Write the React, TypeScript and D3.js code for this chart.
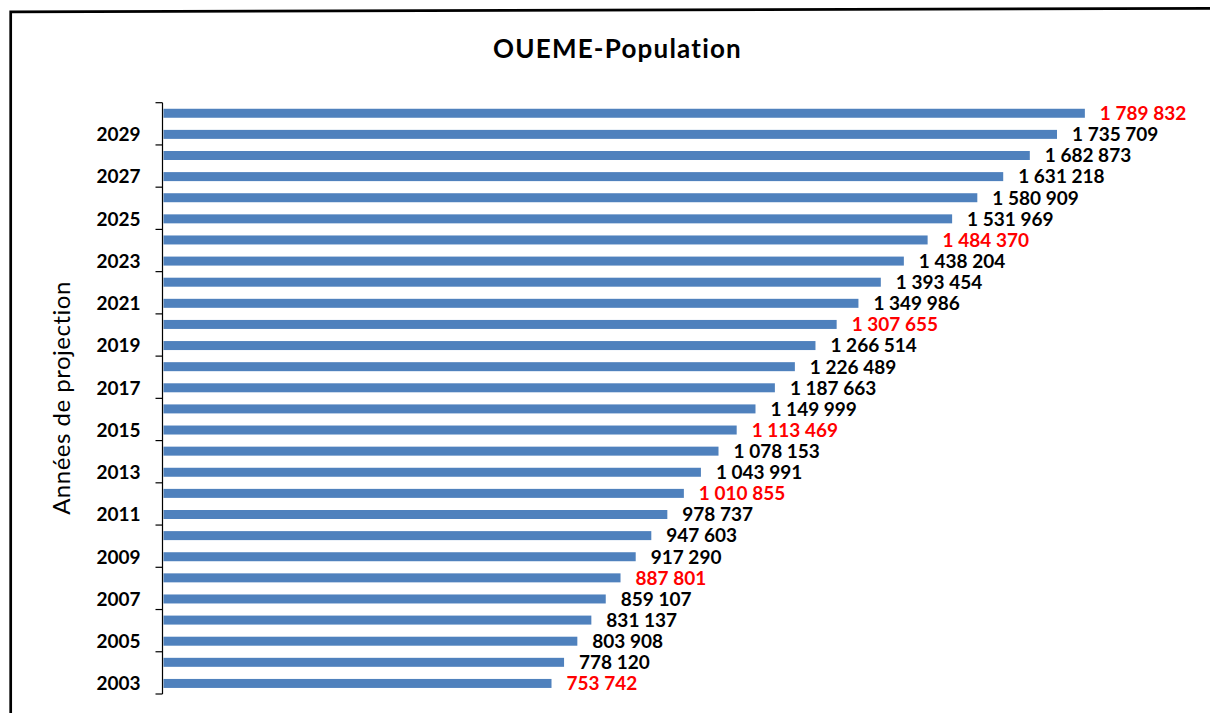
import React, { useEffect, useRef } from "react";
import * as d3 from "d3";

const years: number[] = [2003, 2004, 2005, 2006, 2007, 2008, 2009, 2010, 2011, 2012, 2013, 2014, 2015, 2016, 2017, 2018, 2019, 2020, 2021, 2022, 2023, 2024, 2025, 2026, 2027, 2028, 2029, 2030];
const population: number[] = [753742, 778120, 803908, 831137, 859107, 887801, 917290, 947603, 978737, 1010855, 1043991, 1078153, 1113469, 1149999, 1187663, 1226489, 1266514, 1307655, 1349986, 1393454, 1438204, 1484370, 1531969, 1580909, 1631218, 1682873, 1735709, 1789832];
const highlightYears: number[] = [2003, 2008, 2012, 2015, 2020, 2024, 2030];
const tickLabelYears: number[] = [2003, 2005, 2007, 2009, 2011, 2013, 2015, 2017, 2019, 2021, 2023, 2025, 2027, 2029];

const W = 1210;
const H = 713;

export default function App() {
  const ref = useRef<SVGSVGElement | null>(null);

  useEffect(() => {
    document.body.style.margin = "0";
    const svg = d3.select(ref.current);
    svg.selectAll("*").remove();

    svg.append("rect").attr("width", W).attr("height", H).attr("fill", "#fff");

    // frame
    svg.append("path")
      .attr("d", `M10.7,${H} L10.7,11.8 L${W},8.3`)
      .attr("fill", "none").attr("stroke", "#000").attr("stroke-width", 2.7);

    const x = d3.scaleLinear().domain([0, 1800000]).range([163.5, 1090.1]);
    const y = d3.scaleBand<number>().domain(years).range([694, 102.7]).paddingInner(0.574).paddingOuter(0.287);

    const fmtBase = d3.formatLocale({ decimal: ",", thousands: " ", grouping: [3], currency: ["", ""] }).format(",d");

    // bars
    svg.append("g").selectAll("rect").data(years).join("rect")
      .attr("x", x(0))
      .attr("y", (d) => y(d)!)
      .attr("width", (d, i) => x(population[i]) - x(0))
      .attr("height", y.bandwidth())
      .attr("fill", "#4F81BD");

    // labels
    svg.append("g").selectAll("text").data(years).join("text")
      .attr("x", (d, i) => x(population[i]) + 15)
      .attr("y", (d) => y(d)! + y.bandwidth() / 2)
      .attr("dy", "0.36em")
      .attr("font-family", "Lato")
      .attr("font-weight", 700)
      .attr("font-size", 19)
      .attr("fill", (d) => (highlightYears.includes(d) ? "#FF0000" : "#000"))
      .text((d, i) => fmtBase(population[i]));

    // y axis
    const step = y.step();
    const axisG = svg.append("g");
    const axisX = 162.5;
    axisG.append("line").attr("x1", axisX).attr("x2", axisX)
      .attr("y1", y.range()[1]).attr("y2", y.range()[0])
      .attr("stroke", "#000").attr("stroke-width", 1.2);
    // ticks at boundaries of pairs
    const boundaries = years.filter((d, i) => i % 2 === 0).map((d) => y(d)! + y.bandwidth() / 2 + step / 2);
    boundaries.push(y(years[years.length - 1])! + y.bandwidth() / 2 - step / 2);
    axisG.selectAll("line.tick").data(boundaries).join("line")
      .attr("class", "tick")
      .attr("x1", axisX - 7).attr("x2", axisX)
      .attr("y1", (d) => d).attr("y2", (d) => d)
      .attr("stroke", "#000").attr("stroke-width", 1.2);

    axisG.selectAll("text").data(tickLabelYears).join("text")
      .attr("x", 140.5)
      .attr("y", (d) => y(d)! + y.bandwidth() / 2)
      .attr("dy", "0.36em")
      .attr("text-anchor", "end")
      .attr("font-family", "Lato")
      .attr("font-weight", 700)
      .attr("font-size", 19)
      .attr("fill", "#000")
      .text((d) => String(d));

    // axis title
    svg.append("text")
      .attr("transform", `translate(62,398) rotate(-90)`)
      .attr("text-anchor", "middle")
      .attr("dy", "0.35em")
      .attr("font-family", "Lato")
      .attr("font-size", 24)
      .attr("letter-spacing", 0.5)
      .attr("fill", "#000")
      .text("Années de projection");

    // title
    svg.append("text")
      .attr("x", 617.5)
      .attr("y", 58.3)
      .attr("text-anchor", "middle")
      .attr("font-family", "Lato")
      .attr("font-weight", 700)
      .attr("font-size", 26)
      .attr("letter-spacing", 1.2)
      .attr("fill", "#000")
      .text("OUEME-Population");
  }, []);

  return <svg ref={ref} width={W} height={H} style={{ display: "block" }} />;
}
